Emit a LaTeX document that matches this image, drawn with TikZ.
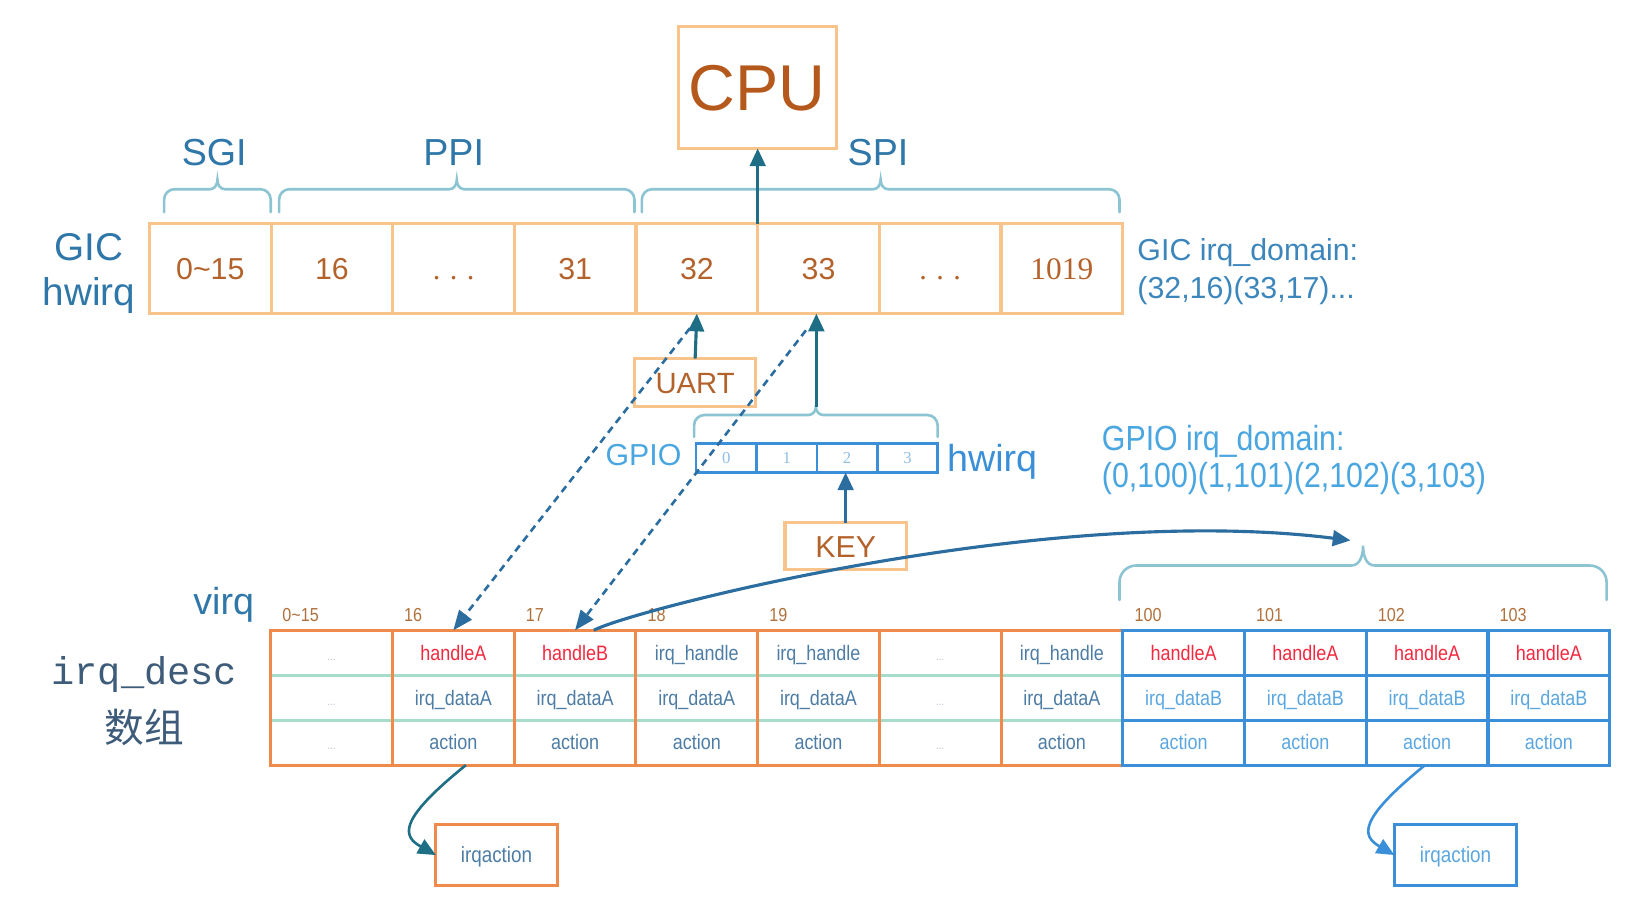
\documentclass[tikz,border=0pt]{standalone}
\usepackage{fontspec}
\setmainfont{Liberation Sans}
\newfontfamily\condf{Liberation Sans}[FakeStretch=0.86]
\newfontfamily\serff{Liberation Serif}
\newfontfamily\monof{Liberation Mono}
\newfontfamily\cjkf{Noto Sans CJK SC}
\usetikzlibrary{arrows.meta}
\definecolor{gicor}{HTML}{F9C48C}
\definecolor{descor}{HTML}{F08A4A}
\definecolor{sepg}{HTML}{A6DCC8}
\definecolor{blu}{HTML}{3A8FD8}
\definecolor{bracec}{HTML}{8CC4D2}
\definecolor{lblc}{HTML}{2F77A8}
\definecolor{brownt}{HTML}{B4622C}
\definecolor{cpuc}{HTML}{B5581C}
\definecolor{redc}{HTML}{F4283F}
\definecolor{celltxt}{HTML}{4D7CA5}
\definecolor{ltblu}{HTML}{5AA6E0}
\definecolor{tealc}{HTML}{1E6F85}
\definecolor{dashc}{HTML}{2B6D9F}
\definecolor{dotc}{HTML}{B8C0CC}
\definecolor{gpiot}{HTML}{4AA6E0}
\definecolor{gpnum}{HTML}{8FBDE6}
\definecolor{domc}{HTML}{3C86BC}
\definecolor{descl}{HTML}{3E5C7A}
\definecolor{idxc}{HTML}{B0703C}
\newcommand\fsz[1]{\fontsize{#1}{#1}\selectfont}
\newcommand\rd[1]{\textcolor{redc}{#1}}
\newcommand\lb[1]{\textcolor{ltblu}{#1}}
\newcommand\dd{\textcolor{dotc}{\fsz{11}...}}
\newcommand\gdots{{\serff .\hspace{9pt}.\hspace{9pt}.}}
% x1 x2 ytop ybottom tip radius
\newcommand\cbrace[6]{%
  \pgfmathsetmacro\bxa{#1}\pgfmathsetmacro\bxb{#2}%
  \pgfmathsetmacro\bya{#3}\pgfmathsetmacro\byb{#4}%
  \pgfmathsetmacro\bxm{(#1+#2)/2}\pgfmathsetmacro\byt{#3-#5}%
  \pgfmathsetmacro\bxl{(#1+#2)/2-#6*0.7}\pgfmathsetmacro\bxr{(#1+#2)/2+#6*0.7}%
  \pgfmathsetmacro\bxc{#1+#6}\pgfmathsetmacro\bxd{#2-#6}\pgfmathsetmacro\byc{#3+#6}%
  \draw[bracestyle] (\bxa,\byb) -- (\bxa,\byc) to[out=90,in=180] (\bxc,\bya)
    -- (\bxl,\bya) to[out=0,in=-90] (\bxm,\byt)
    to[out=-90,in=180] (\bxr,\bya) -- (\bxd,\bya)
    to[out=0,in=90] (\bxb,\byc) -- (\bxb,\byb);}
\tikzset{
  obox/.style={draw=gicor, line width=3pt, inner sep=0pt, outer sep=0pt, text=brownt, font=\fsz{29}, text depth=0pt},
  gcell/.style={obox, minimum width=116.375pt, minimum height=86pt, text height=21pt},
  pcell/.style={draw=blu, line width=2.5pt, minimum width=57.75pt, minimum height=28pt, inner sep=0pt, outer sep=0pt, text=gpnum, font=\serff\fsz{16}, text height=11pt, text depth=0pt},
  dcell/.style={minimum width=116.45pt, minimum height=43pt, inner sep=0pt, outer sep=0pt, text=celltxt, font=\condf\fsz{20}, text height=14pt, text depth=0pt},
  blucell/.style={draw=blu, line width=3pt},
  lbl/.style={text=lblc, font=\fsz{36}, inner sep=0pt},
  dom/.style={text=domc, font=\fsz{29}, inner sep=0pt},
  gpdom/.style={text=gpiot, font=\fsz{29}, inner sep=0pt},
  idx/.style={text=idxc, font=\condf\fsz{18}, inner sep=0pt},
  bracestyle/.style={draw=bracec, line width=2.5pt, line cap=round},
  tarr/.style={draw=tealc, line width=3pt, -{Triangle[length=17pt,width=15pt]}},
  barr/.style={draw=dashc, line width=3pt, -{Triangle[length=17pt,width=15pt]}},
  darr/.style={draw=dashc, line width=2.5pt, dash pattern=on 7pt off 5pt, -{Triangle[length=19pt,width=15pt]}},
  iabox/.style={line width=3pt, inner sep=0pt, outer sep=0pt, minimum width=116pt, minimum height=58pt, font=\condf\fsz{21}, text height=14pt, text depth=0pt},
}
\begin{document}
\begin{tikzpicture}[x=1pt,y=-1pt]
\useasboundingbox (0,0) rectangle (1568,870);

% CPU
\node[obox, minimum width=151pt, minimum height=117pt, font=\fsz{62}, text=cpuc, text height=44pt] (cpu) at (724.5,83.5) {CPU};

% top labels
\node[lbl, anchor=base] (sgi) at (205,158) {SGI};
\node[lbl, anchor=base] (ppi) at (434,158) {PPI};
\node[lbl, anchor=base] (spi) at (840,158) {SPI};
\node[lbl, anchor=base, font=\fsz{37}] (gicl) at (85,249) {GIC};
\node[lbl, anchor=base, font=\fsz{37}] (hwl) at (85,292) {hwirq};

% braces
\cbrace{157}{259}{181}{203}{9}{10}
\cbrace{267}{607}{181}{203}{9}{10}
\cbrace{614}{1071}{181}{203}{9}{10}

% GIC cells
\foreach \i/\t in {0/{0\textasciitilde15},1/16,2/{\gdots},3/31,4/32,5/33,6/{\gdots},7/{\serff\fsz{30}1019}}
  \node[gcell] (g\i) at ({201.19+116.375*\i},257) {\t};

\node[dom, anchor=base west] (gd1) at (1088,249) {GIC irq\_domain:};
\node[dom, anchor=base west] (gd2) at (1088,286) {(32,16)(33,17)...};

% CPU arrow
\draw[tarr] (g5.north west) -- (g5.north west |- cpu.south);

% UART
\node[obox, minimum width=116pt, minimum height=46pt, text height=20pt, font=\fsz{28}] (uart) at (665,366) {UART};
\draw[tarr] (uart.north) -- (g4.south);

% GPIO
\cbrace{664}{897}{397}{418}{8}{10}
\coordinate (gtip) at (781,389);
\draw[tarr] (gtip) -- (gtip |- g5.south);
\foreach \i in {0,...,3}
  \node[pcell] (p\i) at ({694.875+57.75*\i},438) {\i};
\node[gpdom, anchor=base east] (gpiol) at (652,445) {GPIO};
\node[gpdom, anchor=base west, font=\fsz{36}, text=blu] (hw2) at (906,451) {hwirq};

% KEY
\node[obox, minimum width=116pt, minimum height=45pt, text height=21pt] (key) at (809,522.5) {KEY};
\draw[barr] (key.north) -- (key.north |- p2.south);

% GPIO domain
\node[gpdom, anchor=base west] (pd1) at (1054,431) {\scalebox{1}[1.15]{GPIO irq\_domain:}};
\node[gpdom, anchor=base west] (pd2) at (1054,466) {\scalebox{1}[1.15]{(0,100)(1,101)(2,102)(3,103)}};

% left labels
\node[lbl, anchor=base] (virq) at (214,588) {virq};
\node[text=descl, anchor=base, inner sep=0pt, font=\monof\fsz{37}] (irqd) at (138,655) {irq\_desc};
\node[text=descl, inner sep=0pt, font=\cjkf\fsz{38}] (shuzu) at (138,696) {数组};

% irq_desc cells
\foreach \i/\t in {0/\dd,1/{\rd{handleA}},2/{\rd{handleB}},3/irq\_handle,4/irq\_handle,5/\dd,6/irq\_handle,7/{\rd{handleA}},8/{\rd{handleA}},9/{\rd{handleA}},10/{\rd{handleA}}}
  \node[dcell] (h\i) at ({317.225+116.45*\i},624.5) {\t};
\foreach \i/\t in {0/\dd,1/irq\_dataA,2/irq\_dataA,3/irq\_dataA,4/irq\_dataA,5/\dd,6/irq\_dataA,7/{\lb{irq\_dataB}},8/{\lb{irq\_dataB}},9/{\lb{irq\_dataB}},10/{\lb{irq\_dataB}}}
  \node[dcell] (d\i) at ({317.225+116.45*\i},667.5) {\t};
\foreach \i/\t in {0/\dd,1/action,2/action,3/action,4/action,5/\dd,6/action,7/{\lb{action}},8/{\lb{action}},9/{\lb{action}},10/{\lb{action}}}
  \node[dcell] (a\i) at ({317.225+116.45*\i},710.5) {\t};

\draw[sepg, line width=3pt] (h0.south west) -- (h6.south east) (d0.south west) -- (d6.south east);
\foreach \i in {1,...,6}
  \draw[descor, line width=3pt] (h\i.north west) -- (a\i.south west);
\draw[descor, line width=3pt] (h0.north west) rectangle (a6.south east);
\foreach \i in {7,...,10} {
  \draw[blucell] (h\i.north west) rectangle (h\i.south east);
  \draw[blucell] (d\i.north west) rectangle (d\i.south east);
  \draw[blucell] (a\i.north west) rectangle (a\i.south east);
}

% index labels
\foreach \i/\t in {0/{0\textasciitilde15},1/16,2/17,3/18,4/19,7/100,8/101,9/102,10/103}
  \node[idx, anchor=base west] (n\i) at ([shift={(11,-8)}]h\i.north west) {\t};

% right brace
\cbrace{1071}{1537}{541}{574}{19}{16}
\coordinate (rtip) at (1292,517);

% dashed arrows
\coordinate (ds1) at (660,314);
\coordinate (ds2) at (771,316);
\draw[darr] (ds1) -- (h1.north);
\draw[darr] (ds2) -- (h2.north);

% handleB arrow
\draw[barr] ([xshift=18pt]h2.north) .. controls (600,585) and (1000,480) .. (rtip);

% irqaction boxes
\node[iabox, draw=descor, text=celltxt] (ia1) at (475,818) {irqaction};
\node[iabox, draw=blu, text=ltblu, minimum width=117pt] (ia2) at (1392.5,818) {irqaction};
\draw[tarr, line width=2.5pt] ([xshift=12pt]a1.south) .. controls (380,785) and (385,800) .. (ia1.west);
\draw[tarr, draw=blu, line width=2.5pt] ([xshift=-2pt]a9.south) .. controls (1298,785) and (1303,800) .. (ia2.west);
\end{tikzpicture}
\end{document}
